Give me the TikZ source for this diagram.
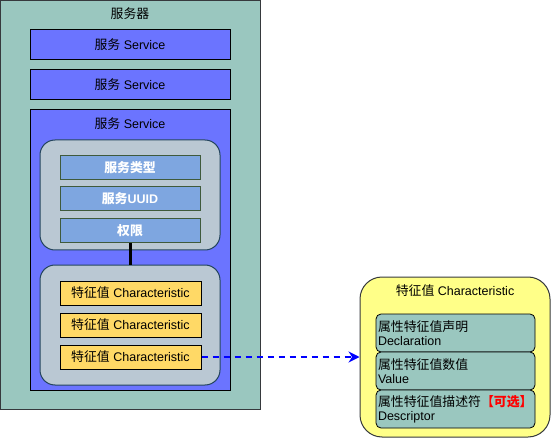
\documentclass[tikz,border=0pt]{standalone}
\usepackage{fontspec}
\setmainfont{Liberation Sans}
\newfontfamily\cjk[Scale=1.03]{Noto Sans CJK SC}
\usetikzlibrary{arrows.meta}
\definecolor{srvteal}{HTML}{9AC7BF}
\definecolor{svcblue}{HTML}{6B74FF}
\definecolor{grpgray}{HTML}{BAC8D3}
\definecolor{grpline}{HTML}{23445D}
\definecolor{itemblue}{HTML}{7EA6E0}
\definecolor{itemline}{HTML}{3F5A3B}
\definecolor{charyel}{HTML}{FFD966}
\definecolor{boxyel}{HTML}{FFFF88}
\definecolor{boxline}{HTML}{36393D}
\definecolor{optred}{HTML}{FF0000}
\begin{document}
\begin{tikzpicture}[x=1pt,y=-1pt,
  font=\fontsize{12.5}{14}\selectfont,
  every node/.style={inner sep=0pt},
  svcbox/.style={draw=black, line width=1pt, fill=svcblue, minimum width=200pt, minimum height=30pt},
  grpbox/.style={draw=grpline, line width=1pt, fill=grpgray, rounded corners=15pt, minimum width=180pt},
  itembox/.style={draw=itemline, line width=1pt, fill=itemblue, minimum width=140pt, minimum height=24pt, text=white, font=\fontsize{12.5}{14}\selectfont\bfseries},
  charitem/.style={draw=black, line width=1pt, fill=charyel, minimum width=141pt, minimum height=24pt},
  attrbox/.style={draw=black, line width=0.8pt, fill=srvteal, rounded corners=5pt, minimum width=159pt, minimum height=38pt, text width=155pt, align=left, inner xsep=2pt}
]
\useasboundingbox (0,0) rectangle (551,438);
% server
\node[draw=boxline, line width=0.8pt, fill=srvteal, minimum width=260pt, minimum height=409pt] (server) at (130.5,205) {};
\node (srvtitle) at (130,14) {\cjk 服务器};
% services
\node[svcbox] (s1) at (130,45) {{\cjk 服务} Service};
\node[svcbox] (s2) at (130,85) {{\cjk 服务} Service};
\node[svcbox, minimum height=280pt] (s3) at (130,250) {};
\node (s3title) at (130,124) {{\cjk 服务} Service};
% group 1
\node[grpbox, minimum height=110pt] (g1) at (130,195) {};
\node[itembox] (type) at (130,168) {\cjk 服务类型};
\node[itembox] (uuid) at (130,199) {{\cjk 服务}UUID};
\node[itembox] (perm) at (130,230.5) {\cjk 权限};
% group 2
\node[grpbox, minimum height=120pt] (g2) at (130,325) {};
\draw[line width=3pt] (perm.south) -- (g2.north);
\node[charitem] (c1) at (130.5,293) {{\cjk 特征值} Characteristic};
\node[charitem] (c2) at (130.5,325) {{\cjk 特征值} Characteristic};
\node[charitem] (c3) at (130.5,357) {{\cjk 特征值} Characteristic};
% characteristic detail
\node[draw=boxline, line width=1pt, fill=boxyel, rounded corners=22pt, minimum width=190pt, minimum height=160pt] (chr) at (455,357) {};
\node (chrtitle) at (455,291) {{\cjk 特征值} Characteristic};
\node[attrbox] (decl) at (455.5,333) {{\cjk 属性特征值声明}\\Declaration};
\node[attrbox] (val) at (455.5,371) {{\cjk 属性特征值数值}\\Value};
\node[attrbox] (desc) at (455.5,409) {{\cjk 属性特征值描述符}\textcolor{optred}{\cjk\bfseries 【可选】}\\Descriptor};
\draw[draw=blue, line width=2pt, dash pattern=on 6pt off 5pt, -{Stealth[length=11pt,width=11pt]}] (c3.east) -- (chr.west);
\end{tikzpicture}
\end{document}
